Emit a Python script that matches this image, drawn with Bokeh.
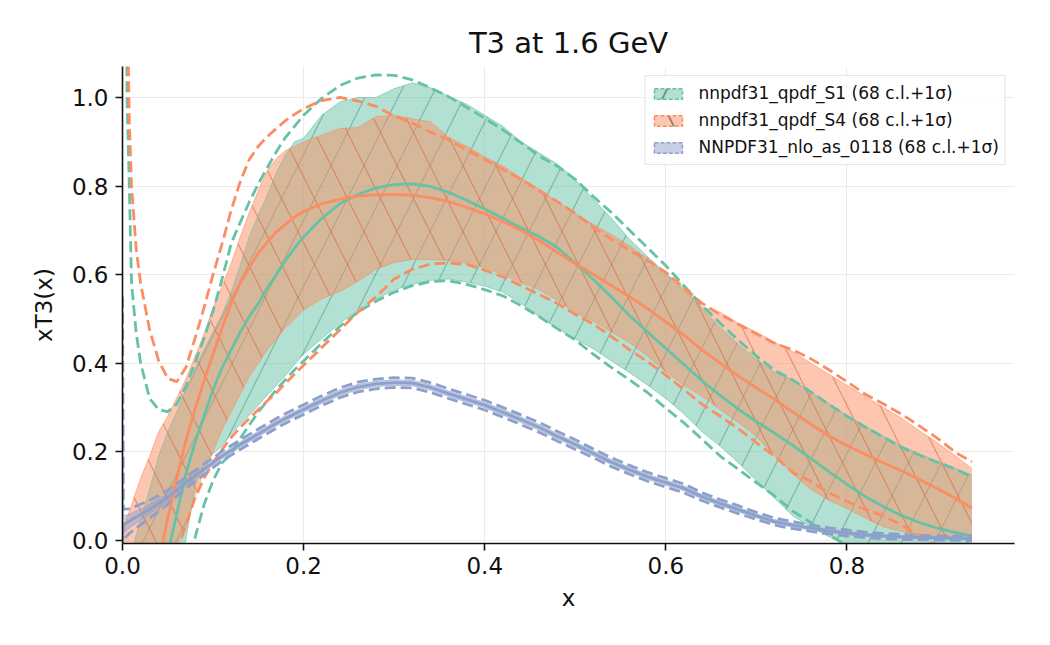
from bokeh.plotting import figure
from bokeh.models import (Range1d, FixedTicker, PrintfTickFormatter, Legend,
                          LegendItem, ColumnDataSource)
from bokeh.embed import file_html
from bokeh.resources import INLINE

# x grid shared by all sets
x = [0.00001, 0.001, 0.003, 0.005, 0.0075, 0.01, 0.015, 0.02, 0.03, 0.04, 0.05, 0.06, 0.07, 0.08, 0.09, 0.10,
     0.11, 0.12, 0.13, 0.14, 0.15, 0.16, 0.17, 0.18, 0.19, 0.20,
     0.22, 0.24, 0.26, 0.28, 0.30, 0.32, 0.34, 0.36, 0.38, 0.40, 0.42, 0.44, 0.46, 0.48, 0.50, 0.52, 0.54, 0.56, 0.58,
     0.60, 0.62, 0.64, 0.66, 0.68, 0.70, 0.72, 0.74, 0.76, 0.78, 0.80, 0.82, 0.84, 0.86, 0.88, 0.90, 0.92, 0.938]

# nnpdf31_qpdf_S1
s1_cv = [-2.5, -1.5, -1.2, -1.0, -0.85, -0.75, -0.6, -0.5, -0.32, -0.17, -0.03, 0.06, 0.15, 0.22, 0.28, 0.34,
         0.39, 0.43, 0.47, 0.505, 0.535, 0.57, 0.60, 0.632, 0.66, 0.685,
         0.727, 0.76, 0.781, 0.796, 0.803, 0.805, 0.799, 0.786, 0.768, 0.748, 0.727, 0.706, 0.686, 0.661, 0.626, 0.589, 0.549, 0.507, 0.47,
         0.433, 0.397, 0.36, 0.327, 0.296, 0.268, 0.242, 0.214, 0.185, 0.155, 0.126, 0.099, 0.076, 0.056, 0.04, 0.027, 0.017, 0.01]
s1_up68 = [-0.2, -0.15, -0.1, -0.08, -0.05, -0.03, 0.01, 0.045, 0.115, 0.19, 0.245, 0.29, 0.34, 0.385, 0.43, 0.47,
           0.51, 0.56, 0.62, 0.685, 0.735, 0.78, 0.83, 0.87, 0.90, 0.908,
           0.96, 0.99, 1.0, 1.0, 1.02, 1.033, 1.022, 1.003, 0.985, 0.96, 0.935, 0.9, 0.875, 0.85, 0.815, 0.77, 0.727, 0.68, 0.64,
           0.603, 0.57, 0.524, 0.48, 0.443, 0.408, 0.38, 0.362, 0.335, 0.308, 0.282, 0.258, 0.235, 0.213, 0.195, 0.178, 0.162, 0.147]
s1_dn68 = [-0.8, -0.6, -0.5, -0.45, -0.4, -0.37, -0.32, -0.28, -0.21, -0.15, -0.1, -0.05, 0.0, 0.12, 0.175, 0.195,
           0.213, 0.24, 0.262, 0.282, 0.305, 0.328, 0.35, 0.372, 0.397, 0.42,
           0.455, 0.49, 0.52, 0.545, 0.565, 0.578, 0.587, 0.59, 0.583, 0.574, 0.56, 0.535, 0.505, 0.478, 0.455, 0.432, 0.405, 0.378, 0.35,
           0.32, 0.285, 0.245, 0.212, 0.175, 0.135, 0.095, 0.055, 0.03, 0.008, -0.01, -0.03, -0.04, -0.05, -0.06, -0.07, -0.08, -0.09]
s1_upstd = [10, 6, 2.0, 1.0, 0.8, 0.58, 0.47, 0.40, 0.32, 0.295, 0.29, 0.308, 0.348, 0.40, 0.456, 0.518,
            0.59, 0.67, 0.718, 0.764, 0.805, 0.842, 0.878, 0.91, 0.935, 0.96,
            0.998, 1.027, 1.044, 1.051, 1.05, 1.04, 1.022, 1.002, 0.978, 0.953, 0.927, 0.898, 0.868, 0.845, 0.815, 0.776, 0.74, 0.70, 0.66,
            0.62, 0.575, 0.53, 0.49, 0.452, 0.416, 0.384, 0.362, 0.335, 0.307, 0.28, 0.256, 0.233, 0.21, 0.192, 0.176, 0.16, 0.143]
s1_dnstd = [-10, -6, -4, -3, -2.4, -2.0, -1.5, -1.2, -0.85, -0.6, -0.35, -0.2, -0.09, 0.005, 0.08, 0.135,
            0.175, 0.195, 0.23, 0.26, 0.29, 0.315, 0.34, 0.363, 0.385, 0.405,
            0.445, 0.483, 0.515, 0.54, 0.56, 0.575, 0.584, 0.586, 0.578, 0.566, 0.552, 0.53, 0.505, 0.478, 0.452, 0.42, 0.39, 0.362, 0.333,
            0.298, 0.265, 0.228, 0.19, 0.16, 0.13, 0.1, 0.066, 0.04, 0.012, -0.012, -0.035, -0.055, -0.075, -0.09, -0.105, -0.12, -0.13]

# nnpdf31_qpdf_S4
s4_cv = [-2.0, -1.3, -1.0, -0.85, -0.7, -0.6, -0.45, -0.35, -0.18, -0.05, 0.05, 0.14, 0.225, 0.295, 0.36, 0.42,
         0.48, 0.535, 0.58, 0.617, 0.648, 0.674, 0.696, 0.714, 0.73, 0.743,
         0.76, 0.77, 0.777, 0.78, 0.781, 0.779, 0.774, 0.765, 0.752, 0.737, 0.72, 0.70, 0.677, 0.65, 0.625, 0.60, 0.575, 0.55, 0.523,
         0.493, 0.463, 0.43, 0.40, 0.371, 0.344, 0.318, 0.29, 0.262, 0.236, 0.214, 0.194, 0.175, 0.157, 0.137, 0.116, 0.094, 0.072]
s4_up68 = [0.0, 0.02, 0.03, 0.05, 0.065, 0.08, 0.11, 0.14, 0.19, 0.245, 0.28, 0.322, 0.364, 0.415, 0.465, 0.525,
           0.575, 0.625, 0.685, 0.74, 0.79, 0.835, 0.862, 0.88, 0.89, 0.90,
           0.915, 0.93, 0.932, 0.957, 0.96, 0.952, 0.945, 0.91, 0.89, 0.866, 0.845, 0.818, 0.793, 0.765, 0.738, 0.713, 0.69, 0.665, 0.635,
           0.60, 0.565, 0.527, 0.515, 0.49, 0.47, 0.447, 0.426, 0.40, 0.375, 0.35, 0.325, 0.30, 0.276, 0.247, 0.22, 0.19, 0.162]
s4_dn68 = [-0.4, -0.3, -0.25, -0.22, -0.2, -0.18, -0.15, -0.13, -0.09, -0.06, -0.035, -0.01, 0.025, 0.1, 0.155, 0.2,
           0.25, 0.29, 0.33, 0.37, 0.40, 0.43, 0.455, 0.48, 0.50, 0.52,
           0.545, 0.562, 0.585, 0.612, 0.627, 0.634, 0.634, 0.632, 0.626, 0.616, 0.60, 0.582, 0.566, 0.542, 0.514, 0.495, 0.47, 0.446, 0.415,
           0.38, 0.35, 0.325, 0.295, 0.266, 0.235, 0.19, 0.15, 0.115, 0.09, 0.072, 0.05, 0.03, 0.02, 0.012, 0.007, 0.005, 0.004]
s4_upstd = [10, 6, 2.2, 1.25, 0.95, 0.8, 0.66, 0.58, 0.475, 0.405, 0.365, 0.358, 0.39, 0.455, 0.525, 0.60,
            0.67, 0.745, 0.81, 0.86, 0.89, 0.912, 0.93, 0.948, 0.962, 0.975,
            0.993, 1.0, 0.992, 0.98, 0.958, 0.942, 0.922, 0.904, 0.882, 0.86, 0.838, 0.815, 0.79, 0.765, 0.738, 0.706, 0.68, 0.655, 0.632,
            0.605, 0.57, 0.535, 0.51, 0.488, 0.466, 0.445, 0.43, 0.41, 0.385, 0.358, 0.33, 0.308, 0.285, 0.258, 0.23, 0.198, 0.177]
s4_dnstd = [-10, -5, -3, -2.2, -1.7, -1.4, -1.05, -0.8, -0.5, -0.3, -0.15, -0.03, 0.035, 0.095, 0.14, 0.175,
            0.205, 0.232, 0.255, 0.275, 0.295, 0.315, 0.333, 0.355, 0.375, 0.395,
            0.435, 0.475, 0.515, 0.55, 0.59, 0.612, 0.624, 0.626, 0.623, 0.61, 0.595, 0.575, 0.555, 0.535, 0.51, 0.488, 0.46, 0.43, 0.403,
            0.373, 0.34, 0.307, 0.28, 0.252, 0.22, 0.19, 0.153, 0.133, 0.107, 0.088, 0.07, 0.055, 0.035, 0.01, -0.015, -0.04, -0.06]

# NNPDF31_nlo_as_0118
nn_cv = [0.0, 0.035, 0.038, 0.04, 0.043, 0.046, 0.052, 0.058, 0.07, 0.083, 0.097, 0.113, 0.13, 0.145, 0.16, 0.175,
         0.19, 0.203, 0.216, 0.228, 0.24, 0.252, 0.264, 0.275, 0.285, 0.295,
         0.315, 0.333, 0.346, 0.353, 0.356, 0.355, 0.345, 0.331, 0.318, 0.305, 0.289, 0.272, 0.255, 0.235, 0.216, 0.196, 0.176, 0.159, 0.143,
         0.13, 0.117, 0.098, 0.083, 0.069, 0.055, 0.042, 0.034, 0.027, 0.021, 0.016, 0.012, 0.0095, 0.0075, 0.006, 0.005, 0.0045, 0.004]
nn_up68 = [0.3, 0.055, 0.056, 0.057, 0.059, 0.061, 0.066, 0.071, 0.081, 0.093, 0.106, 0.121, 0.137, 0.1515, 0.166, 0.181,
           0.196, 0.209, 0.222, 0.234, 0.246, 0.258, 0.270, 0.281, 0.291, 0.301,
           0.321, 0.339, 0.352, 0.359, 0.362, 0.361, 0.351, 0.337, 0.324, 0.311, 0.295, 0.278, 0.261, 0.241, 0.222, 0.2015, 0.1815, 0.1645, 0.1485,
           0.1355, 0.1225, 0.103, 0.088, 0.074, 0.0595, 0.0465, 0.0385, 0.031, 0.025, 0.0195, 0.0155, 0.0125, 0.0105, 0.009, 0.008, 0.0075, 0.007]
nn_dn68 = [-0.3, 0.015, 0.020, 0.023, 0.027, 0.031, 0.038, 0.045, 0.059, 0.073, 0.088, 0.105, 0.123, 0.1385, 0.154, 0.169,
           0.184, 0.197, 0.210, 0.222, 0.234, 0.246, 0.258, 0.269, 0.279, 0.289,
           0.309, 0.327, 0.340, 0.347, 0.350, 0.349, 0.339, 0.325, 0.312, 0.299, 0.283, 0.266, 0.249, 0.229, 0.210, 0.1905, 0.1705, 0.1535, 0.1375,
           0.1245, 0.1115, 0.093, 0.078, 0.064, 0.0505, 0.0375, 0.0295, 0.023, 0.017, 0.0125, 0.0085, 0.0065, 0.0045, 0.003, 0.002, 0.0015, 0.001]
nn_upstd = [0.55, 0.07, 0.07, 0.07, 0.071, 0.073, 0.077, 0.081, 0.09, 0.101, 0.113, 0.127, 0.143, 0.157, 0.172, 0.186,
            0.201, 0.214, 0.227, 0.239, 0.251, 0.263, 0.275, 0.286, 0.296, 0.306,
            0.326, 0.344, 0.357, 0.364, 0.367, 0.366, 0.356, 0.342, 0.329, 0.316, 0.300, 0.283, 0.266, 0.246, 0.227, 0.206, 0.186, 0.169, 0.153,
            0.14, 0.127, 0.107, 0.092, 0.078, 0.063, 0.05, 0.042, 0.034, 0.028, 0.023, 0.018, 0.0155, 0.0135, 0.011, 0.01, 0.0095, 0.009]
nn_dnstd = [-0.5, 0.0, 0.006, 0.01, 0.015, 0.019, 0.027, 0.035, 0.05, 0.065, 0.081, 0.099, 0.117, 0.133, 0.148, 0.164,
            0.179, 0.192, 0.205, 0.217, 0.229, 0.241, 0.253, 0.264, 0.274, 0.284,
            0.304, 0.322, 0.335, 0.342, 0.345, 0.344, 0.334, 0.320, 0.307, 0.294, 0.278, 0.261, 0.244, 0.224, 0.205, 0.186, 0.166, 0.149, 0.133,
            0.12, 0.107, 0.089, 0.074, 0.06, 0.047, 0.034, 0.026, 0.02, 0.014, 0.009, 0.006, 0.0035, 0.0015, 0.001, 0.0, -0.0005, -0.001]

labels = ["nnpdf31_qpdf_S1 (68 c.l.+1\u03c3)",
          "nnpdf31_qpdf_S4 (68 c.l.+1\u03c3)",
          "NNPDF31_nlo_as_0118 (68 c.l.+1\u03c3)"]
x_ticks = [0.0, 0.2, 0.4, 0.6, 0.8]
y_ticks = [0.0, 0.2, 0.4, 0.6, 0.8, 1.0]

GREEN, ORANGE, BLUE = "#66c2a5", "#fc8d62", "#8da0cb"
FONT = "DejaVu Sans"
INK = "#111111"

p = figure(width=1050, height=645, output_backend="svg", toolbar_location=None,
           x_range=Range1d(0, 0.985), y_range=Range1d(-0.0075, 1.07),
           min_border_left=122, min_border_right=36, min_border_top=66, min_border_bottom=102,
           x_axis_label="x", y_axis_label="xT3(x)", title="T3 at 1.6 GeV")
p.outline_line_color = None
p.background_fill_color = "white"
p.border_fill_color = "white"

p.title.text_font = FONT
p.title.text_font_size = "29px"
p.title.text_font_style = "normal"
p.title.text_color = INK
p.title.align = "center"
p.title.standoff = 13

for ax in (p.xaxis[0], p.yaxis[0]):
    ax.axis_line_width = 1.6
    ax.axis_line_color = INK
    ax.major_tick_line_width = 1.6
    ax.major_tick_line_color = INK
    ax.major_tick_out = 7
    ax.major_tick_in = 0
    ax.minor_tick_line_color = None
    ax.major_label_text_font = FONT
    ax.major_label_text_font_size = "23px"
    ax.major_label_text_color = INK
    ax.axis_label_text_font = FONT
    ax.axis_label_text_font_size = "23px"
    ax.axis_label_text_font_style = "normal"
    ax.axis_label_text_color = INK
    ax.formatter = PrintfTickFormatter(format="%.1f")
p.xaxis[0].ticker = FixedTicker(ticks=x_ticks)
p.yaxis[0].ticker = FixedTicker(ticks=y_ticks)
p.xaxis[0].major_label_standoff = 6
p.yaxis[0].major_label_standoff = 7
p.xaxis[0].axis_label_standoff = 8
p.yaxis[0].axis_label_standoff = 12

p.xgrid.ticker = FixedTicker(ticks=x_ticks)
p.ygrid.ticker = FixedTicker(ticks=y_ticks)
p.grid.grid_line_color = "#ebebeb"
p.grid.grid_line_width = 1

src = ColumnDataSource(dict(x=x,
                            s1_cv=s1_cv, s1_up68=s1_up68, s1_dn68=s1_dn68, s1_upstd=s1_upstd, s1_dnstd=s1_dnstd,
                            s4_cv=s4_cv, s4_up68=s4_up68, s4_dn68=s4_dn68, s4_upstd=s4_upstd, s4_dnstd=s4_dnstd,
                            nn_cv=nn_cv, nn_up68=nn_up68, nn_dn68=nn_dn68, nn_upstd=nn_upstd, nn_dnstd=nn_dnstd))

sets = [("s1", GREEN, "/", "#2f7a62", 0.45),
        ("s4", ORANGE, "\\", "#d0643a", 0.6),
        ("nn", BLUE, None, None, 0)]

HATCH_SCALE = 66

# 68% c.l. bands
for key, col, hatch, hcol, halpha in sets:
    kw = dict(fill_color=col, fill_alpha=0.5)
    if hatch:
        kw.update(hatch_pattern=hatch, hatch_color=hcol, hatch_alpha=halpha,
                  hatch_scale=HATCH_SCALE, hatch_weight=1.1)
    p.varea(x="x", y1=key + "_dn68", y2=key + "_up68", source=src, **kw)

# band outlines
for key, col, hatch, hcol, halpha in sets:
    for edge in ("_up68", "_dn68"):
        p.line("x", key + edge, source=src, line_color=col, line_alpha=0.6, line_width=1)

# central values and 1 sigma bounds
for key, col, hatch, hcol, halpha in sets:
    p.line("x", key + "_cv", source=src, line_color=col, line_width=2.8)
    for edge in ("_upstd", "_dnstd"):
        p.line("x", key + edge, source=src, line_color=col, line_width=2.8, line_dash="11 5")

# legend swatches (proxy glyphs with no drawable extent)
nan = float("nan")
items = []
for (key, col, hatch, hcol, halpha), lab in zip(sets, labels):
    proxy = ColumnDataSource(dict(left=[nan], right=[nan], top=[nan], bottom=[nan]))
    kw = dict(fill_color=col, fill_alpha=0.5, line_color=col, line_width=1.5, line_dash="4 2")
    if hatch:
        kw.update(hatch_pattern=hatch, hatch_color="#333333",
                  hatch_alpha=0.8, hatch_scale=66, hatch_weight=1.2)
    r = p.quad(left="left", right="right", top="top", bottom="bottom", source=proxy, **kw)
    items.append(LegendItem(label=lab, renderers=[r], index=0))

legend = Legend(items=items, location="top_right")
legend.label_text_font = FONT
legend.label_text_font_size = "17px"
legend.label_text_color = INK
legend.glyph_width = 35
legend.glyph_height = 13
legend.label_height = 24
legend.label_standoff = 13
legend.spacing = 3
legend.padding = 5
legend.margin = 9
legend.border_line_color = "#cccccc"
legend.border_line_width = 1
legend.background_fill_alpha = 0.8
p.add_layout(legend)

open("out.html", "w").write(file_html(p, INLINE))
